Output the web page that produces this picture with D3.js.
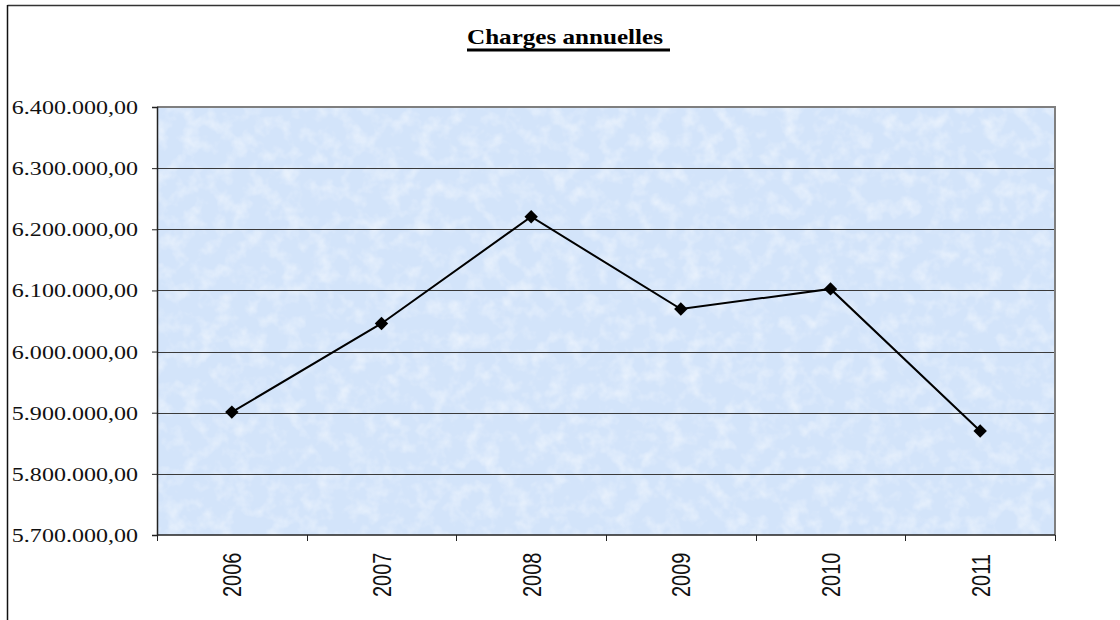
<!DOCTYPE html>
<html>
<head>
<meta charset="utf-8">
<script src="https://cdn.jsdelivr.net/npm/d3@7"></script>
<style>
  html, body { margin: 0; padding: 0; background: #ffffff; }
  svg { display: block; }
</style>
</head>
<body>
<svg id="chart" width="1120" height="620"></svg>
<script>
// ---- data ----
const title = "Charges annuelles";
const years = ["2006", "2007", "2008", "2009", "2010", "2011"];
const charges = [5901000, 6046000, 6220500, 6069500, 6102500, 5870000];
const yTicks = [5700000, 5800000, 5900000, 6000000, 6100000, 6200000, 6300000, 6400000];

// ---- layout ----
const W = 1120, H = 620;
const plot = { left: 157, right: 1055, top: 107, bottom: 535 };
const sx = 1.3; // horizontal stretch of the original rendering

const svg = d3.select("#chart");

const fr = d3.formatLocale({ decimal: ",", thousands: ".", grouping: [3], currency: ["", ""] });
const fmt = fr.format(",.2f");

const x = d3.scaleBand().domain(years).range([plot.left, plot.right]).padding(0);
const y = d3.scaleLinear().domain([5700000, 6400000]).range([plot.bottom, plot.top]);

// outer frame (top and left edges visible)
svg.append("line").attr("x1", 7.5).attr("x2", W).attr("y1", 5.5).attr("y2", 5.5)
  .attr("stroke", "#333").attr("stroke-width", 1.5);
svg.append("line").attr("x1", 7.5).attr("x2", 7.5).attr("y1", 5).attr("y2", H)
  .attr("stroke", "#111").attr("stroke-width", 1.5);

// background texture
const defs = svg.append("defs");
const f = defs.append("filter").attr("id", "tex").attr("x", 0).attr("y", 0).attr("width", 1).attr("height", 1);
f.append("feTurbulence").attr("type", "fractalNoise").attr("baseFrequency", "0.06").attr("numOctaves", 3).attr("seed", 7).attr("result", "n");
f.append("feColorMatrix").attr("in", "n").attr("type", "matrix")
  .attr("values", "0 0 0 0 1  0 0 0 0 1  0 0 0 0 1  1.8 0 0 0 -0.8");

svg.append("rect")
  .attr("x", plot.left).attr("y", plot.top)
  .attr("width", plot.right - plot.left).attr("height", plot.bottom - plot.top)
  .attr("fill", "#d3e4fa");
svg.append("rect")
  .attr("x", plot.left).attr("y", plot.top)
  .attr("width", plot.right - plot.left).attr("height", plot.bottom - plot.top)
  .attr("fill", "#fff").attr("filter", "url(#tex)").attr("opacity", 0.6);

// gridlines
svg.append("g").selectAll("line")
  .data(yTicks.filter(v => v > 5700000 && v < 6400000))
  .join("line")
  .attr("x1", plot.left).attr("x2", plot.right)
  .attr("y1", d => Math.round(y(d)) + 0.5).attr("y2", d => Math.round(y(d)) + 0.5)
  .attr("stroke", "#3a3a3a").attr("stroke-width", 1);

// plot border top/right (grey)
svg.append("path")
  .attr("d", `M${plot.left},${plot.top} H${plot.right} V${plot.bottom}`)
  .attr("fill", "none").attr("stroke", "#7f7f7f").attr("stroke-width", 2);

// y axis
const yAxis = d3.axisLeft(y).tickValues(yTicks).tickSize(5).tickFormat("");
const gy = svg.append("g").attr("transform", `translate(${plot.left},0)`).call(yAxis);
gy.select(".domain").attr("stroke", "#222").attr("stroke-width", 1.5);
gy.selectAll(".tick line").attr("stroke", "#222");

// y labels (serif, stretched horizontally)
svg.append("g").selectAll("text")
  .data(yTicks)
  .join("text")
  .attr("transform", d => `translate(138,${y(d) + 7}) scale(${sx},1)`)
  .attr("text-anchor", "end")
  .attr("font-family", "'Liberation Serif', 'Times New Roman', serif")
  .attr("font-size", 18.5)
  .attr("fill", "#111")
  .text(d => fmt(d));

// x axis
const boundaries = years.map(d => x(d)).concat([plot.right]);
svg.append("line")
  .attr("x1", plot.left).attr("x2", plot.right)
  .attr("y1", plot.bottom).attr("y2", plot.bottom)
  .attr("stroke", "#222").attr("stroke-width", 1.5);
svg.append("g").selectAll("line")
  .data(boundaries)
  .join("line")
  .attr("x1", d => Math.round(d) + 0.5).attr("x2", d => Math.round(d) + 0.5)
  .attr("y1", plot.bottom).attr("y2", plot.bottom + 6)
  .attr("stroke", "#222").attr("stroke-width", 1);

// x labels (rotated)
svg.append("g").selectAll("text")
  .data(years)
  .join("text")
  .attr("transform", d => `translate(${x(d) + x.bandwidth() / 2},597) scale(${sx},1) rotate(-90)`)
  .attr("text-anchor", "start")
  .attr("dy", "0.36em")
  .attr("font-family", "'Liberation Sans', Arial, sans-serif")
  .attr("font-size", 20)
  .attr("fill", "#111")
  .text(d => d);

// line
const cx = d => x(d) + x.bandwidth() / 2;
const line = d3.line().x((d, i) => cx(years[i])).y(d => y(d));
svg.append("path")
  .datum(charges)
  .attr("d", line)
  .attr("fill", "none")
  .attr("stroke", "#000")
  .attr("stroke-width", 2);

// markers
const sym = d3.symbol(d3.symbolSquare, 90);
svg.append("g").selectAll("path")
  .data(charges)
  .join("path")
  .attr("d", sym)
  .attr("transform", (d, i) => `translate(${cx(years[i])},${y(d)}) rotate(45)`)
  .attr("fill", "#000");

// title
svg.append("text")
  .attr("x", 467).attr("y", 43.5)
  .attr("font-family", "'Liberation Serif', 'Times New Roman', serif")
  .attr("font-weight", "bold")
  .attr("font-size", 22)
  .attr("textLength", 196)
  .attr("lengthAdjust", "spacingAndGlyphs")
  .attr("fill", "#000")
  .text(title);
svg.append("rect")
  .attr("x", 467).attr("y", 48.5).attr("width", 203).attr("height", 3)
  .attr("fill", "#000");
</script>
</body>
</html>
